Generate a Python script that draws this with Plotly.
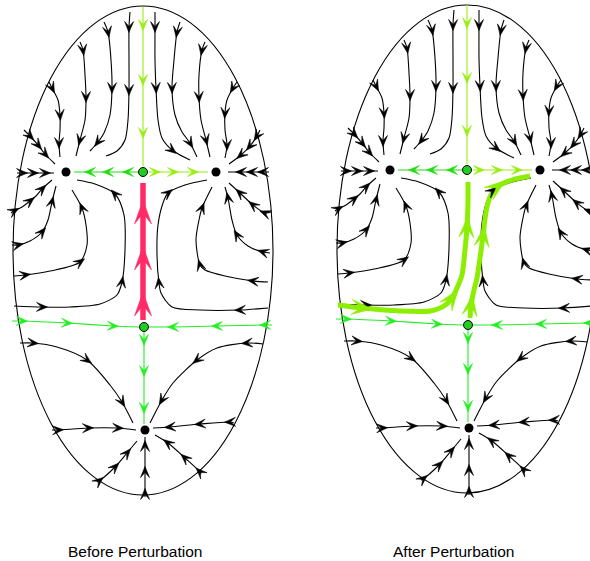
import numpy as np
import plotly.graph_objects as go

# ---------------- data (pixel-like coordinates, y downwards) ----------------
# each point: (x, y, arrow_flag)  -- arrow_flag 1 means an arrowhead sits at that point
# upper-left basin
S1 = [(130,12,0),(129,27,1),(129,60,0),(129,90,1),(128,120,0),(125,140,0),(117,151,0),(106,156,0)]
S2 = [(104,22,0),(108,32,1),(111,60,0),(112,88,1),(110,115,0),(104,133,0),(98,142,1),(90,151,0)]
S3 = [(80,42,0),(83,50,1),(85,75,0),(86,97,1),(85,120,0),(80,140,1),(76,156,0)]
S4 = [(49,82,0),(52,88,1),(58,100,0),(60,115,1),(60,130,0),(59,143,1),(60,157,0)]
S5 = [(24,130,0),(30,136,1),(38,145,1),(45,154,1),(55,164,0)]
S6 = [(17,173,0),(22,173,1),(33,173,1),(45,173,1),(54,173,0)]
# upper-right basin
R1 = [(155,12,0),(155,27,1),(155,60,0),(156,88,1),(158,120,0),(162,138,0),(172,150,1),(190,160,0)]
R2 = [(180,22,0),(177,32,1),(174,60,0),(172,88,1),(175,115,0),(182,132,0),(190,143,1),(197,157,0)]
R3 = [(205,42,0),(202,50,1),(199,75,0),(199,97,1),(201,120,0),(206,140,1),(210,157,0)]
R4 = [(237,82,0),(233,88,1),(227,100,0),(225,113,1),(225,130,0),(227,145,1),(225,158,0)]
R5 = [(260,130,0),(257,136,1),(250,146,1),(241,155,1),(229,164,0)]
R6 = [(269,172,0),(263,172,1),(252,172,1),(241,172,1),(228,172,0)]
# middle-left
L1 = [(11,213,0),(14,211,1),(22,207,0),(30,201,1),(36,196,0),(42,189,1),(52,180,0)]
L2 = [(12,245,0),(18,245,1),(30,241,0),(42,232,1),(48,220,0),(52,202,1),(56,186,0)]
L3 = [(14,276,0),(25,275,1),(50,271,0),(80,262,1),(87,245,0),(86,225,0),(82,208,1),(72,190,0)]
L4 = [(14,306,0),(42,307,1),(70,307,0),(100,304,0),(117,295,0),(122,282,1),(125,250,0),
      (124,215,0),(115,194,1),(95,184,0),(77,180,0)]
# middle-right
M1 = [(271,212,0),(265,213,1),(253,205,1),(240,193,1),(229,183,0)]
M2 = [(270,253,0),(263,252,1),(248,246,0),(237,235,1),(232,220,0),(228,198,1),(225,187,0)]
M3 = [(268,282,0),(253,281,1),(225,276,0),(205,270,0),(200,265,1),(196,240,0),(199,220,0),
      (202,208,1),(212,187,0)]
M4 = [(268,308,0),(240,310,1),(200,310,0),(172,307,0),(161,293,0),(159,283,1),(157,255,0),
      (158,225,0),(163,203,0),(168,193,1),(185,185,0),(207,180,0)]
# lower basin
B1 = [(20,343,0),(33,343,1),(57,347,0),(87,360,1),(110,385,0),(122,402,1),(133,423,0)]
B2 = [(52,430,0),(58,430,1),(88,428,1),(118,428,1),(136,430,0)]
B3 = [(97,482,0),(99,481,1),(115,467,1),(127,453,1),(137,441,0)]
B4 = [(145,497,0),(145,494,1),(145,472,1),(145,446,1),(145,437,0)]
B5 = [(263,344,0),(247,343,1),(217,348,0),(197,360,1),(173,383,0),(162,400,1),(150,423,0)]
B6 = [(234,423,0),(230,422,1),(200,424,1),(170,427,1),(153,428,0)]
B7 = [(201,474,0),(200,472,1),(185,458,1),(168,443,1),(155,435,0)]

# separatrices
G_TOP = [(143,7,0),(143,25,1),(143,80,1),(143,133,1),(143,166,0)]
G_UL = [(138,172,0),(128,172,1),(108,172,1),(90,172,1),(74,172,0)]
G_UR = [(149,172,0),(155,172,1),(173,172,1),(193,172,1),(208,172,0)]
G_LL = [(12,321,0),(22,321,1),(67,323,1),(113,326,1),(139,327,0)]
G_LR = [(272,325,0),(265,325,1),(217,326,1),(173,327,1),(149,327,0)]
G_LV = [(144,332,0),(144,340,1),(144,371,1),(144,408,1),(144,424,0)]

# heteroclinic connection (before) and broken connection (after, absolute coords)
RED_LINK = [(143,320,0),(143,304,1),(143,258,1),(143,212,1),(143,183,0)]
G_AFTER_1 = [(470,318,0),(471,305,1),(474,290,0),(477,278,0),(480,258,0),(483,236,1),
             (486,212,0),(490,197,0),(497,187,1),(512,180,0),(530,176,0)]
G_AFTER_2 = [(338,305,0),(362,308,1),(400,311,0),(430,311,0),(444,306,0),(452,298,1),
             (457,288,0),(462,275,0),(465,250,0),(467,227,1),(468,200,0),(468,182,0)]

NODES_X = [66, 216, 145]
NODES_Y = [172, 172, 430]
SADDLES_X = [143, 144]
SADDLES_Y = [172, 327]

ELLIPSE_CX = [143, 467]
ELLIPSE_CY = [250.5, 249]
ELLIPSE_RX = [130, 130]
ELLIPSE_RY = [244.5, 244]

PANEL_DX = [0, 324]
PANEL_DY = [0, -2]
LABELS = ["Before Perturbation", "After Perturbation"]
LABEL_X = [134.5, 453]
LABEL_Y = [551, 551]

BLACK_STREAMS = [S1, S2, S3, S4, S5, S6, R1, R2, R3, R4, R5, R6,
                 L1, L2, L3, L4, M1, M2, M3, M4, B1, B2, B3, B4, B5, B6, B7]

C_BLACK = "#000000"
C_YG = "#99ee11"
C_G = "#22dd11"
C_G2 = "#22ee22"
C_RED = "#ff2a66"
C_THICK = "#8cee00"

fig = go.Figure()
arrow_polys = {}


def arrow_poly(p, d, L, W):
    d = d / (np.hypot(*d) + 1e-9)
    n = np.array([-d[1], d[0]])
    tip = p + d * L / 2
    back = p - d * L / 2
    c1 = back + n * W / 2
    c2 = back - n * W / 2
    notch = p - d * L * 0.05
    return [tip, c1, notch, c2, tip]


def add_stream(pts, dx, dy, color, width, L=11, W=9):
    arr = np.array([(x + dx, y + dy) for x, y, _ in pts], dtype=float)
    fig.add_trace(go.Scatter(x=arr[:, 0], y=arr[:, 1], mode="lines",
                             line=dict(color=color, width=width, shape="spline", smoothing=0.8),
                             hoverinfo="skip", showlegend=False))
    for i, (_, _, f) in enumerate(pts):
        if not f:
            continue
        if 0 < i < len(arr) - 1:
            d = arr[i + 1] - arr[i - 1]
        elif i == 0:
            d = arr[1] - arr[0]
        else:
            d = arr[i] - arr[i - 1]
        poly = arrow_poly(arr[i], d, L, W)
        arrow_polys.setdefault(color, []).append(poly)


for k in range(2):
    dx, dy = PANEL_DX[k], PANEL_DY[k]
    for s in BLACK_STREAMS:
        add_stream(s, dx, dy, C_BLACK, 1.1)
    add_stream(G_TOP, dx, dy, C_YG, 1.1)
    add_stream(G_UR, dx, dy, C_YG, 1.1)
    add_stream(G_UL, dx, dy, C_G, 1.1)
    add_stream(G_LL, dx, dy, C_G2, 1.1)
    add_stream(G_LR, dx, dy, C_G2, 1.1)
    add_stream(G_LV, dx, dy, C_G2, 1.1)
    if k == 0:
        add_stream(RED_LINK, dx, dy, C_RED, 5.5, L=24, W=17)
    else:
        add_stream(G_AFTER_1, 0, 0, C_THICK, 5, L=21, W=15)
        add_stream(G_AFTER_2, 0, 0, C_THICK, 5, L=21, W=15)

for color, polys in arrow_polys.items():
    xs, ys = [], []
    for poly in polys:
        for p in poly:
            xs.append(p[0]); ys.append(p[1])
        xs.append(None); ys.append(None)
    fig.add_trace(go.Scatter(x=xs, y=ys, mode="lines", fill="toself", fillcolor=color,
                             line=dict(color=color, width=0.6), hoverinfo="skip",
                             showlegend=False))

for k in range(2):
    dx, dy = PANEL_DX[k], PANEL_DY[k]
    fig.add_trace(go.Scatter(x=[x + dx for x in NODES_X], y=[y + dy for y in NODES_Y],
                             mode="markers", marker=dict(color="black", size=9),
                             hoverinfo="skip", showlegend=False))
    fig.add_trace(go.Scatter(x=[x + dx for x in SADDLES_X], y=[y + dy for y in SADDLES_Y],
                             mode="markers",
                             marker=dict(color="#22cc22", size=9, line=dict(color="black", width=1)),
                             hoverinfo="skip", showlegend=False))
    fig.add_shape(type="circle", xref="x", yref="y",
                  x0=ELLIPSE_CX[k] - ELLIPSE_RX[k], x1=ELLIPSE_CX[k] + ELLIPSE_RX[k],
                  y0=ELLIPSE_CY[k] - ELLIPSE_RY[k], y1=ELLIPSE_CY[k] + ELLIPSE_RY[k],
                  line=dict(color="black", width=1.1), layer="below")
    fig.add_annotation(x=LABEL_X[k], y=LABEL_Y[k], text=LABELS[k], showarrow=False,
                       font=dict(family="Liberation Sans, Arial", size=15.5, color="black"))

fig.update_layout(width=590, height=561, margin=dict(l=0, r=0, t=0, b=0),
                  plot_bgcolor="white", paper_bgcolor="white",
                  xaxis=dict(range=[0, 590], visible=False, fixedrange=True),
                  yaxis=dict(range=[561, 0], visible=False, fixedrange=True))
fig.write_html("out.html", config={"displayModeBar": False},
               post_script="document.body.style.margin='0px';document.body.style.overflow='hidden';")
